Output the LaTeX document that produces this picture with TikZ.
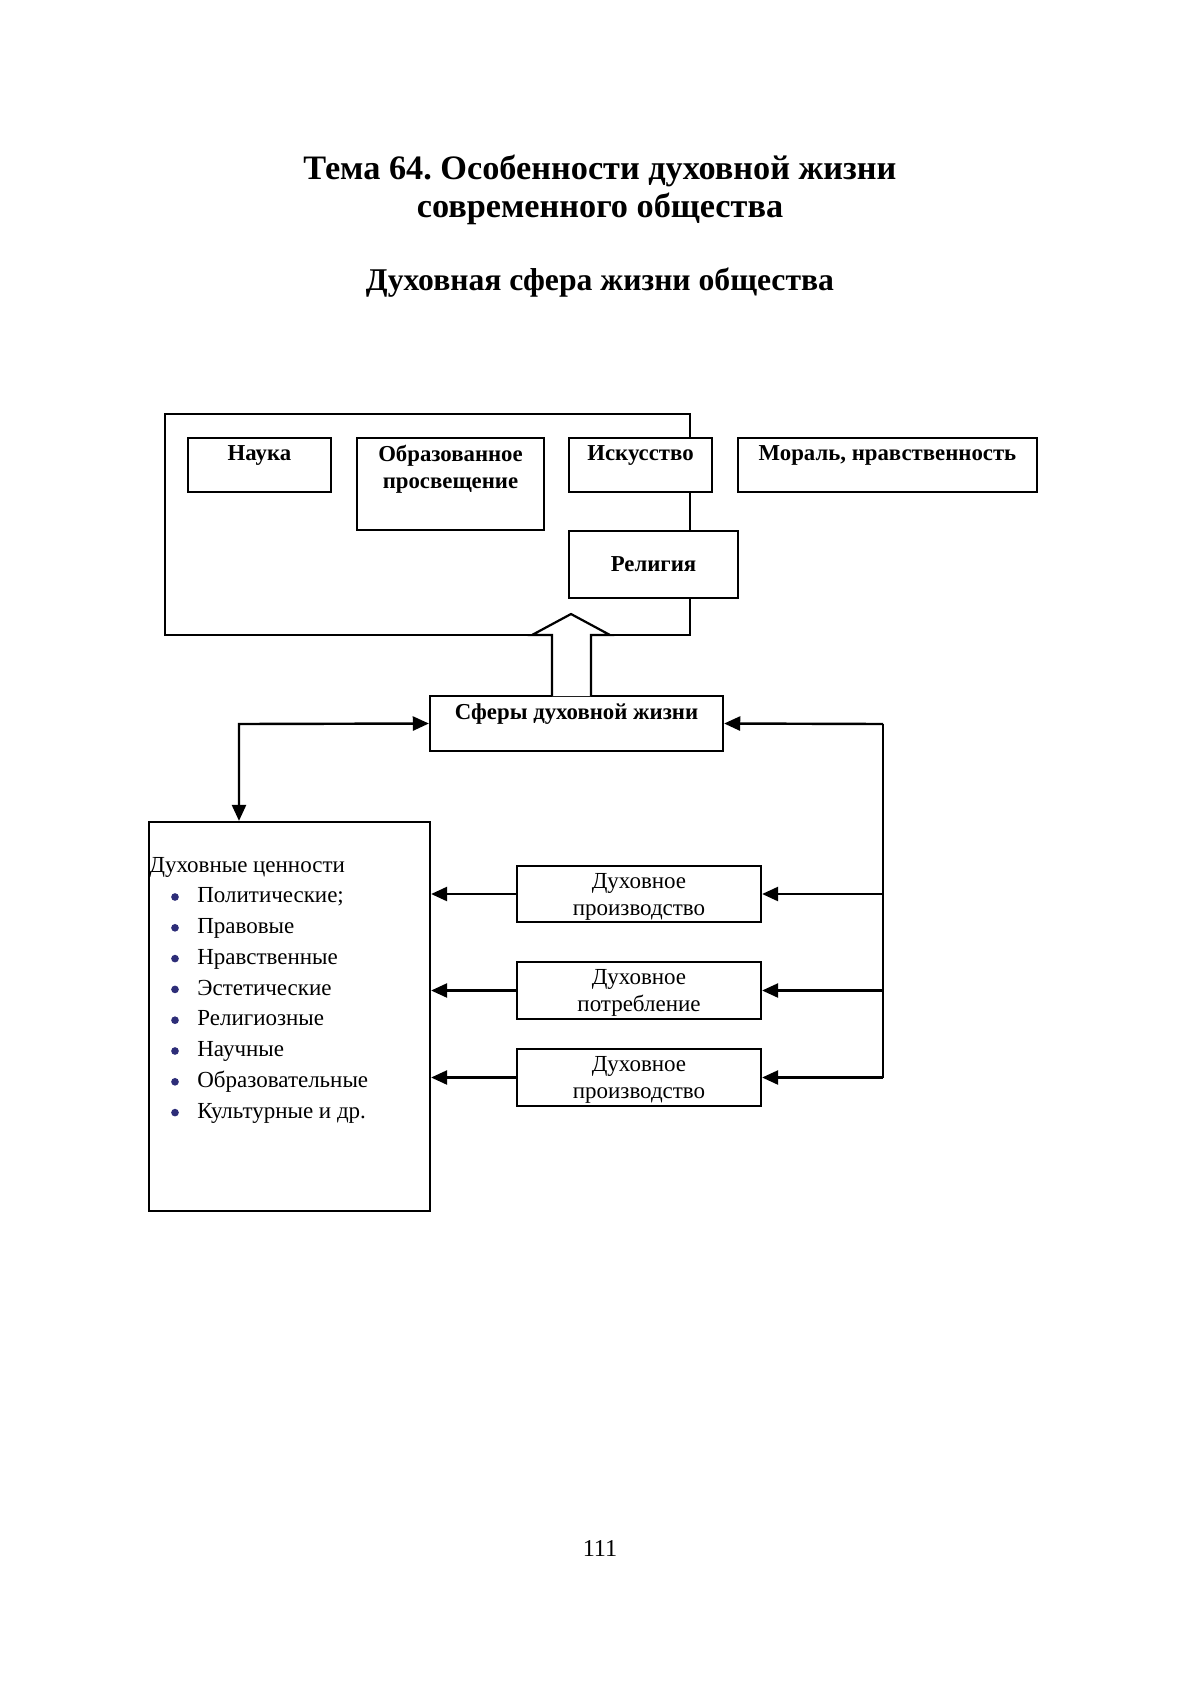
\documentclass[tikz,border=0pt]{standalone}
\usepackage{fontspec}
\setmainfont{Liberation Serif}
\usetikzlibrary{arrows.meta,fit}
\definecolor{bulletblue}{RGB}{45,45,120}
\frenchspacing
\begin{document}
\begin{tikzpicture}[x=0.496pt,y=-0.496pt,
  frame/.style={draw=black,line width=1.1pt,fill=white,inner sep=0pt},
  bold12/.style={font=\fontsize{11.3}{13.4}\selectfont\bfseries,inner sep=0pt,align=center},
  reg12/.style={font=\fontsize{11.4}{13.4}\selectfont,inner sep=0pt,align=center},
  conn/.style={line width=1.2pt},
  arr/.style={line width=1.2pt,-{Triangle[length=8pt,width=7pt]}},
  dblarr/.style={line width=1.2pt,{Triangle[length=8pt,width=7pt]}-{Triangle[length=8pt,width=7pt]}},
  bul/.style={circle,fill=bulletblue,inner sep=0pt,minimum size=3.8pt},
]
\fill[white] (0,0) rectangle (1200,1703);
\path[use as bounding box] (0,0) rectangle (1200,1703);

% titles
\node[font=\fontsize{17}{20}\selectfont\bfseries,inner sep=0pt] (t1) at (600,171) {Тема 64. Особенности духовной жизни};
\node[font=\fontsize{17}{20}\selectfont\bfseries,inner sep=0pt] (t2) at (600,209) {современного общества};
\node[font=\fontsize{15.7}{19}\selectfont\bfseries,inner sep=0pt] (t3) at (600,283) {Духовная сфера жизни общества};

% outer frame
\node[fit={(165,414) (690,635)},draw=black,line width=1.1pt,inner sep=0pt] (outer) {};

% upper boxes
\node[frame,fit={(188,438) (331,492)}] (nauka) {};
\node[bold12,anchor=north] (naukaT) at ([yshift=-4pt]nauka.north) {Наука};
\node[frame,fit={(357,438) (544,530)}] (obr) {};
\node[bold12,anchor=north] (obrT) at ([yshift=-4pt]obr.north) {Образованное\\просвещение};
\node[frame,fit={(569,438) (712,492)}] (isk) {};
\node[bold12,anchor=north] (iskT) at ([yshift=-4pt]isk.north) {Искусство};
\node[frame,fit={(738,438) (1037,492)}] (moral) {};
\node[bold12,anchor=north] (moralT) at ([yshift=-4pt]moral.north) {Мораль, нравственность};
\node[frame,fit={(569,531) (738,598)}] (rel) {};
\node[bold12] (relT) at (rel.center) {Религия};

% central box
\node[frame,fit={(430,696) (723,751)}] (sfery) {};
\node[bold12,anchor=north] (sferyT) at ([yshift=-4pt]sfery.north) {Сферы духовной жизни};

% block arrow
\draw[line width=1.1pt,fill=white] (552,696) -- (552,635) -- (532,635) -- (571,614) -- (610,635) -- (591,635) -- (591,696);

% values box
\node[draw=black,line width=1.1pt,inner sep=0pt,fit={(149,822) (430,1211)}] (values) {};
\node[reg12,anchor=mid west] (valT) at (149,868) {Духовные ценности};
\foreach \i/\t [count=\k from 0] in {1/Политические;,2/Правовые,3/Нравственные,4/Эстетические,5/Религиозные,6/Научные,7/Образовательные,8/Культурные и др.}{
  \node[bul] (b\i) at (175,{897+30.8*\k}) {};
  \node[reg12,anchor=mid west] (v\i) at (197,{898+30.8*\k}) {\t};
}

% right boxes
\node[frame,fit={(517,866) (761,922)}] (p1) {};
\node[reg12] (p1T) at ([yshift=-1.2pt]p1.center) {Духовное\\производство};
\node[frame,fit={(517,962) (761,1019)}] (p2) {};
\node[reg12] (p2T) at ([yshift=-1.2pt]p2.center) {Духовное\\потребление};
\node[frame,fit={(517,1049) (761,1106)}] (p3) {};
\node[reg12] (p3T) at ([yshift=-1.2pt]p3.center) {Духовное\\производство};

% connectors
\coordinate (lt) at (239,724);
\draw[dblarr] (sfery.west) -- (lt) -- (lt |- values.north);

\coordinate (rt) at (883,724);
\coordinate (rb) at (883,1077.5);
\draw[arr] (rt) -- (sfery.east);
\draw[conn] (rt) -- (rb);
\draw[arr] (rt |- p1.east) -- (p1.east);
\draw[arr] (rt |- p2.east) -- (p2.east);
\draw[arr] (rb) -- (p3.east);

\draw[arr] (p1.west) -- (values.east |- p1.west);
\draw[arr] (p2.west) -- (values.east |- p2.west);
\draw[arr] (p3.west) -- (values.east |- p3.west);

% page number
\node[font=\fontsize{12}{14}\selectfont,inner sep=0pt] (page) at (600,1548) {111};
\end{tikzpicture}
\end{document}
